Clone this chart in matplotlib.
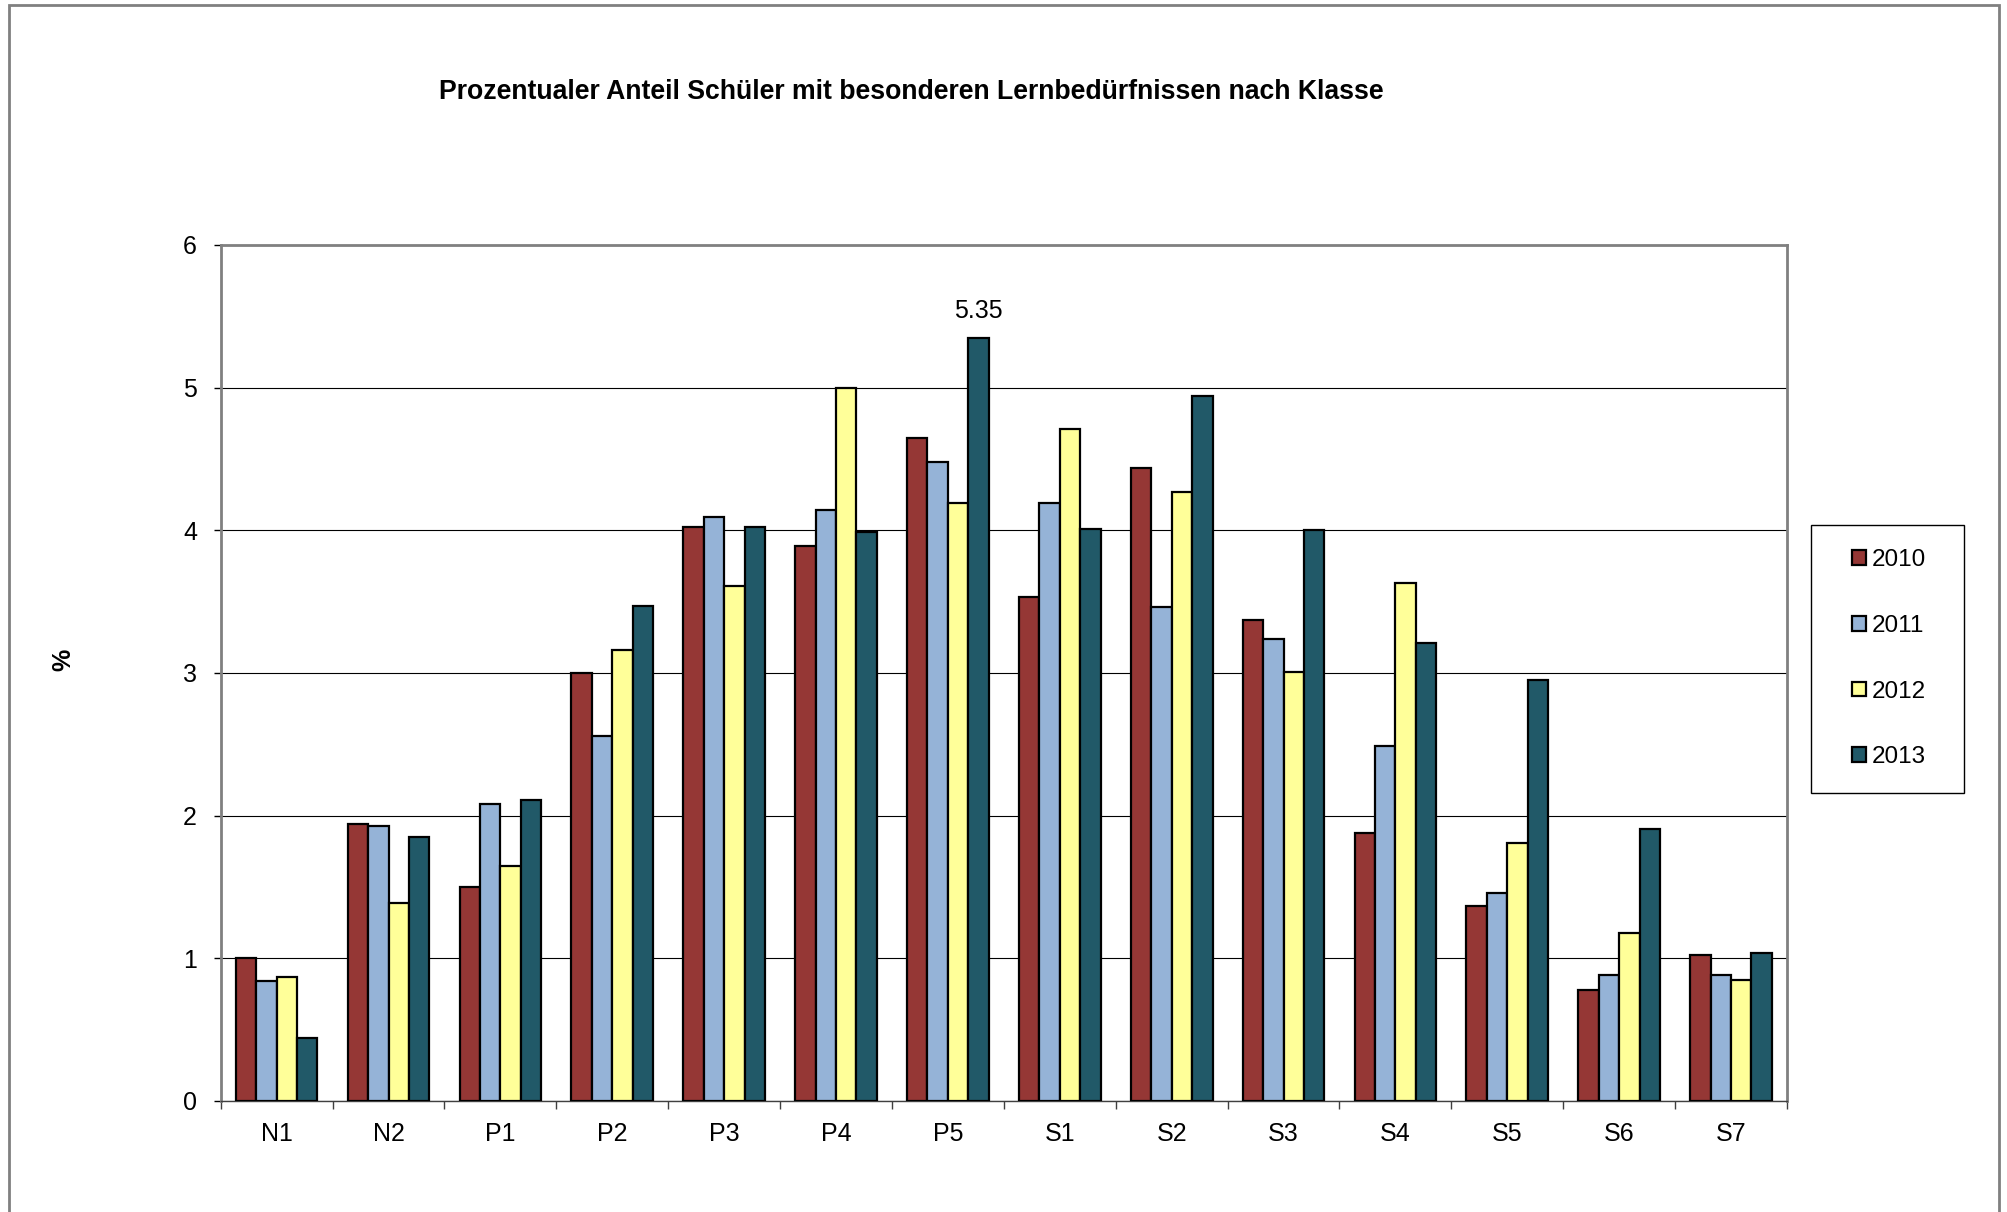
import matplotlib
matplotlib.use("Agg")
import matplotlib.pyplot as plt
import numpy as np
from matplotlib.patches import Rectangle

plt.rcParams['font.family'] = ['Liberation Sans', 'DejaVu Sans']

categories = ["N1", "N2", "P1", "P2", "P3", "P4", "P5", "S1", "S2", "S3", "S4", "S5", "S6", "S7"]
years = ["2010", "2011", "2012", "2013"]
v2010 = [1.00, 1.94, 1.50, 3.00, 4.02, 3.89, 4.65, 3.53, 4.44, 3.37, 1.88, 1.37, 0.78, 1.02]
v2011 = [0.84, 1.93, 2.08, 2.56, 4.09, 4.14, 4.48, 4.19, 3.46, 3.24, 2.49, 1.46, 0.88, 0.88]
v2012 = [0.87, 1.39, 1.65, 3.16, 3.61, 5.00, 4.19, 4.71, 4.27, 3.01, 3.63, 1.81, 1.18, 0.85]
v2013 = [0.44, 1.85, 2.11, 3.47, 4.02, 3.99, 5.35, 4.01, 4.94, 4.00, 3.21, 2.95, 1.91, 1.04]
series = [v2010, v2011, v2012, v2013]
colors = ["#953735", "#95B3D7", "#FFFF99", "#215968"]
yticks = [0, 1, 2, 3, 4, 5, 6]

W, H = 2008, 1212
fig = plt.figure(figsize=(W / 100, H / 100), dpi=100)
fig.patch.set_facecolor("white")

ax = fig.add_axes([220.7 / W, 1 - 1101 / H, (1787 - 220.7) / W, (1101 - 245) / H])
x = np.arange(len(categories))
w = 0.1825
handles = []
for j, (vals, c, yr) in enumerate(zip(series, colors, years)):
    b = ax.bar(x + (j - 1.5) * w, vals, width=w, color=c, edgecolor="black",
               linewidth=1.6, label=yr, zorder=3)
    handles.append(b)

# label of max value
imax = int(np.argmax(v2013))
ax.annotate(f"{v2013[imax]:.2f}", xy=(x[imax] + 1.5 * w, v2013[imax]),
            xytext=(0, 19), textcoords="offset points", ha="center", va="center",
            fontsize=18, zorder=4)

ax.set_xlim(-0.5, len(categories) - 0.5)
ax.set_ylim(0, 6)
ax.set_yticks(yticks)
ax.set_yticklabels([str(t) for t in yticks], fontsize=18)
ax.set_xticks(x)
ax.set_xticklabels(categories, fontsize=18)
ax.set_xticks(np.arange(-0.5, len(categories), 1), minor=True)
ax.tick_params(axis="x", which="major", length=0, pad=15)
ax.tick_params(axis="x", which="minor", length=6, width=1.0, color="#404040", direction="out")
ax.tick_params(axis="y", which="major", length=5, width=1.0, color="black", direction="out", pad=12)

ax.yaxis.grid(True, color="black", linewidth=0.8, zorder=0)
ax.set_axisbelow(True)
for s in ["left", "top", "right"]:
    ax.spines[s].set_color("#808080")
    ax.spines[s].set_linewidth(2.0)
ax.spines["bottom"].set_color("#404040")
ax.spines["bottom"].set_linewidth(1.0)

fig.text(911 / W, 1 - 92 / H, "Prozentualer Anteil Schüler mit besonderen Lernbedürfnissen nach Klasse",
         ha="center", va="center", fontsize=19.2, fontweight="bold")
fig.text(63 / W, 1 - 660 / H, "%", rotation=90, ha="center", va="center",
         fontsize=18, fontweight="bold")

# legend
leg = fig.legend(handles=handles, labels=years, loc="upper left",
                 bbox_to_anchor=(1840 / W, 1 - 537 / H), frameon=False,
                 fontsize=17.5, handlelength=0.55, handleheight=0.55,
                 handletextpad=0.25, labelspacing=1.8, borderpad=0)
for h in leg.legend_handles:
    h.set_linewidth(1.6)
fig.patches.append(Rectangle((1811 / W, 1 - 793 / H), 153 / W, 268 / H,
                             transform=fig.transFigure, fill=False,
                             edgecolor="black", linewidth=1.0))
# outer chart frame
fig.patches.append(Rectangle((8.7 / W, -0.05), (1999 - 8.7) / W, 1.05 - 5 / H,
                             transform=fig.transFigure, fill=False,
                             edgecolor="#808080", linewidth=2.0, clip_on=False))

fig.savefig("out.png", dpi=100, facecolor="white")
